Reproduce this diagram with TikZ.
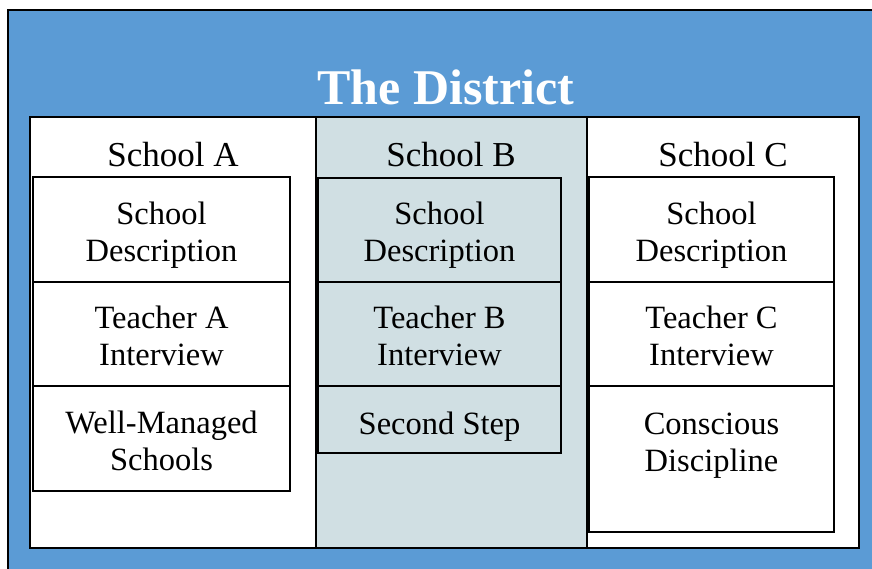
\documentclass[tikz,border=0pt]{standalone}
\usepackage{fontspec}
\setmainfont{Liberation Serif}
\definecolor{distblue}{RGB}{91,155,213}
\definecolor{shadeB}{RGB}{208,223,227}
\begin{document}
\begin{tikzpicture}[x=1pt,y=-1pt,
  frame/.style={line width=2.6pt},
  titletext/.style={text=white,font=\fontsize{50}{56}\selectfont\bfseries,inner sep=0pt,anchor=base},
  hdr/.style={font=\fontsize{35}{40}\selectfont,inner sep=0pt,anchor=base},
  itembox/.style={draw,line width=2.6pt,inner sep=0pt},
  itemtext/.style={align=center,inner sep=0pt,yshift=-7.5pt,
    font=\fontsize{32.5}{37}\selectfont,
    execute at begin node={\rule{0pt}{29pt}},
    execute at end node={\rule[-11pt]{0pt}{11pt}}},
  colA/.style={itembox,fill=white,minimum width=257pt},
  colB/.style={itembox,minimum width=243pt},
  colC/.style={itembox,fill=white,minimum width=245pt}]
\useasboundingbox (0,0) rectangle (872,569);
% district background
\fill[distblue] (8,10) rectangle (872,569);
\draw[frame] (8,569) -- (8,10) -- (872,10);
\node[titletext] (title) at (446,105) {The District};
% panel
\fill[white] (30,117) rectangle (859,548);
\fill[shadeB] (316,117) rectangle (587,548);
\draw[frame] (30,117) rectangle (859,548);
\draw[frame] (316,117) -- (316,548);
\draw[frame] (587,117) -- (587,548);
% headers
\node[hdr] (hA) at (173,167) {School A};
\node[hdr] (hB) at (451,167) {School B};
\node[hdr] (hC) at (723,167) {School C};
% School A
\node[colA,minimum height=105pt] (a1) at (161.5,229.5) {};
\node[colA,minimum height=104pt] (a2) at (161.5,334) {};
\node[colA,minimum height=105pt] (a3) at (161.5,438.5) {};
\node[itemtext] (a1t) at (a1.center) {School\\Description};
\node[itemtext] (a2t) at (a2.center) {Teacher A\\Interview};
\node[itemtext] (a3t) at (a3.center) {Well-Managed\\Schools};
% School B
\node[colB,minimum height=104pt] (b1) at (439.5,230) {};
\node[colB,minimum height=104pt] (b2) at (439.5,334) {};
\node[colB,minimum height=67pt] (b3) at (439.5,419.5) {};
\node[itemtext] (b1t) at (b1.center) {School\\Description};
\node[itemtext] (b2t) at (b2.center) {Teacher B\\Interview};
\node[itemtext,yshift=2pt] (b3t) at (b3.center) {Second Step};
% School C
\node[colC,minimum height=105pt] (c1) at (711.5,229.5) {};
\node[colC,minimum height=104pt] (c2) at (711.5,334) {};
\node[colC,minimum height=146pt] (c3) at (711.5,459) {};
\node[itemtext] (c1t) at (c1.center) {School\\Description};
\node[itemtext] (c2t) at (c2.center) {Teacher C\\Interview};
\node[itemtext] (c3t) at (c3.center) {Conscious\\Discipline\\~};
\end{tikzpicture}
\end{document}
